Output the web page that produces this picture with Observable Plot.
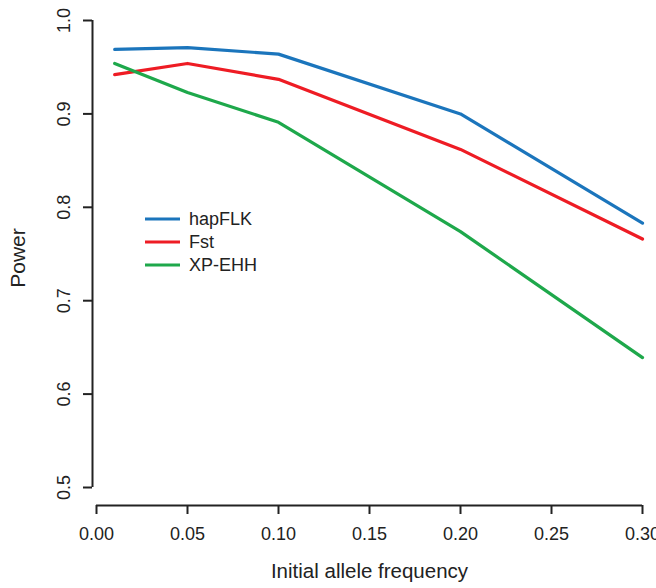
<!DOCTYPE html>
<html>
<head>
<meta charset="utf-8">
<script src="https://cdn.jsdelivr.net/npm/d3@7"></script>
<script src="https://cdn.jsdelivr.net/npm/@observablehq/plot@0.6"></script>
<style>
  html, body { margin: 0; padding: 0; background: #fff; }
  #chart svg { display: block; font-family: "Liberation Sans", Arial, Helvetica, sans-serif; }
</style>
</head>
<body>
<div id="chart"></div>
<script>
const freqs = [0.01, 0.05, 0.10, 0.20, 0.30];
const hapFLK = [0.969, 0.971, 0.964, 0.900, 0.783];
const fst = [0.942, 0.954, 0.937, 0.862, 0.766];
const xpehh = [0.954, 0.923, 0.891, 0.774, 0.639];
const seriesNames = ["hapFLK", "Fst", "XP-EHH"];
const seriesColors = ["#1b75bc", "#ee1c24", "#1ea84b"];
const xTicks = [0.00, 0.05, 0.10, 0.15, 0.20, 0.25, 0.30];
const yTicks = [0.5, 0.6, 0.7, 0.8, 0.9, 1.0];

const seriesValues = [hapFLK, fst, xpehh];
const data = seriesNames.flatMap((name, s) =>
  freqs.map((f, i) => ({series: name, x: f, y: seriesValues[s][i]})));

const fmt2 = d3.format(".2f");
const fmt1 = d3.format(".1f");
const font = "Liberation Sans, Arial, Helvetica, sans-serif";

const chart = Plot.plot({
  width: 656,
  height: 588,
  marginLeft: 96,
  marginRight: 14,
  marginTop: 20,
  marginBottom: 101,
  style: {fontFamily: font, background: "#fff", color: "#222"},
  x: {domain: d3.extent(xTicks), axis: null},
  y: {domain: d3.extent(yTicks), axis: null},
  color: {domain: seriesNames, range: seriesColors},
  marks: [
    // y axis line + ticks
    Plot.ruleX([xTicks[0]], {y1: yTicks[0], y2: yTicks[yTicks.length - 1], dx: -4, stroke: "#222", strokeWidth: 2}),
    Plot.axisY(yTicks, {anchor: "left", tickSize: 9, dx: -4, tickFormat: () => "", stroke: "#222", strokeWidth: 2, label: null}),
    Plot.text(yTicks, {y: d => d, frameAnchor: "left", dx: -32, rotate: -90, textAnchor: "middle", text: d => fmt1(d), fontSize: 18, fill: "#222"}),
    // x axis line + ticks
    Plot.ruleY([yTicks[0]], {x1: xTicks[0], x2: xTicks[xTicks.length - 1], dy: 18, stroke: "#222", strokeWidth: 2}),
    Plot.axisX(xTicks, {anchor: "bottom", tickSize: 9, dy: 18, tickPadding: 13, tickFormat: d => fmt2(d), fontSize: 18, stroke: "#222", strokeWidth: 2, fill: "#222", label: null}),
    // axis titles
    Plot.text(["Initial allele frequency"], {frameAnchor: "bottom", dy: 90, textAnchor: "middle", text: d => d, fontSize: 20.5, fill: "#222"}),
    Plot.text(["Power"], {frameAnchor: "left", dx: -78, dy: 4, rotate: -90, textAnchor: "middle", text: d => d, fontSize: 21, fill: "#222"}),
    // lines
    Plot.line(data, {x: "x", y: "y", z: "series", stroke: "series", strokeWidth: 3.2, curve: "linear"})
  ]
});

// legend (inside plot, like R's legend())
const svg = d3.select(chart);
const lg = svg.append("g").attr("font-family", font).attr("font-size", 18).attr("text-anchor", "start");
seriesNames.forEach((name, i) => {
  const yy = 219 + i * 23;
  lg.append("line").attr("x1", 145).attr("x2", 180).attr("y1", yy).attr("y2", yy)
    .attr("stroke", seriesColors[i]).attr("stroke-width", 3.2);
  lg.append("text").attr("x", 189).attr("y", yy).attr("dy", "0.35em").attr("fill", "#222")
    .attr("text-anchor", "start").text(name);
});

document.getElementById("chart").appendChild(chart);
</script>
</body>
</html>
